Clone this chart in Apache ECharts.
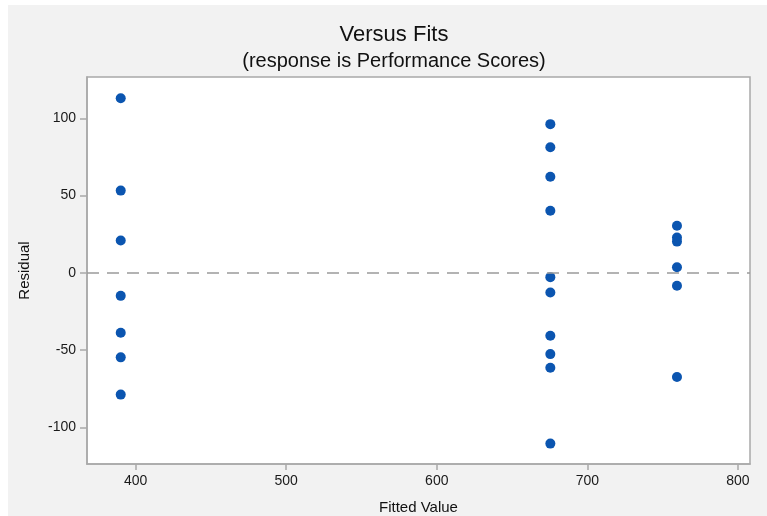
<!DOCTYPE html>
<html>
<head>
<meta charset="utf-8">
<title>Versus Fits</title>
<script src="https://cdn.jsdelivr.net/npm/echarts@6/dist/echarts.min.js"></script>
<style>
  html, body { margin: 0; padding: 0; background: #ffffff; }
  #chart { width: 767px; height: 516px; }
</style>
</head>
<body>
<div id="chart"></div>
<script>
// Fitted value of each group (group means)
const fittedValues = [390.1, 675.4, 759.5];

// Residuals observed in each group
const residualsLow  = [113, 53.2, 20.9, -14.9, -38.8, -54.7, -78.8];
const residualsMid  = [96.2, 81.2, 62.2, 40.2, -2.8, -12.7, -40.7, -52.6, -61.4, -110.5];
const residualsHigh = [30.4, 22.8, 20.2, 3.6, -8.4, -67.4];

// Axis tick labels
const xTicks = [400, 500, 600, 700, 800];
const yTicks = [-100, -50, 0, 50, 100];

const groups = [residualsLow, residualsMid, residualsHigh];
const points = [];
groups.forEach((res, i) => res.forEach(r => points.push([fittedValues[i], r])));

const FONT = '"Liberation Sans", Arial, Helvetica, sans-serif';
const AXIS_GREY = '#a9a9a9';

const chart = echarts.init(document.getElementById('chart'), null, { renderer: 'canvas' });
chart.setOption({
  backgroundColor: '#f2f2f2',
  animation: false,
  graphic: [
    { type: 'rect', left: 0, top: 0, shape: { width: 8, height: 516 }, style: { fill: '#ffffff' }, silent: true },
    { type: 'rect', left: 0, top: 0, shape: { width: 767, height: 5 }, style: { fill: '#ffffff' }, silent: true }
  ],
  title: {
    text: 'Versus Fits',
    subtext: '(response is Performance Scores)',
    left: 389,
    top: 19,
    textAlign: 'center',
    itemGap: 5,
    textStyle: { fontFamily: FONT, fontSize: 22, fontWeight: 'normal', color: '#111111' },
    subtextStyle: { fontFamily: FONT, fontSize: 20, color: '#111111' }
  },
  grid: {
    left: 87, right: 17, top: 77, bottom: 52,
    outerBoundsMode: 'none',
    containLabel: false,
    show: true,
    backgroundColor: '#ffffff',
    borderColor: AXIS_GREY,
    borderWidth: 1.5
  },
  xAxis: {
    type: 'value',
    min: 367.7,
    max: 808,
    name: 'Fitted Value',
    nameLocation: 'middle',
    nameGap: 36,
    nameTextStyle: { fontFamily: FONT, fontSize: 15, color: '#111111' },
    axisLine: { show: true, onZero: false, lineStyle: { color: AXIS_GREY, width: 1.5 } },
    axisTick: { show: true, length: 6, customValues: xTicks, lineStyle: { color: AXIS_GREY, width: 1.5 } },
    axisLabel: { customValues: xTicks, margin: 10, fontFamily: FONT, fontSize: 14, color: '#1a1a1a' },
    splitLine: { show: false }
  },
  yAxis: {
    type: 'value',
    min: -123.7,
    max: 126.7,
    name: 'Residual',
    nameLocation: 'middle',
    nameRotate: 90,
    nameGap: 55,
    nameTextStyle: { fontFamily: FONT, fontSize: 15, color: '#111111' },
    axisLine: { show: true, onZero: false, lineStyle: { color: AXIS_GREY, width: 1.5 } },
    axisTick: { show: true, length: 7, customValues: yTicks, lineStyle: { color: AXIS_GREY, width: 1.5 } },
    axisLabel: { customValues: yTicks, margin: 11, fontFamily: FONT, fontSize: 14, color: '#1a1a1a' },
    splitLine: { show: false }
  },
  series: [{
    type: 'scatter',
    data: points,
    symbol: 'circle',
    symbolSize: 10,
    itemStyle: { color: '#0b55b0', opacity: 1 },
    markLine: {
      silent: true,
      symbol: ['none', 'none'],
      label: { show: false },
      lineStyle: { color: '#9a9a9a', type: [12, 8], width: 1.5 },
      data: [{ yAxis: 0 }]
    },
    z: 3
  }]
});
</script>
</body>
</html>
